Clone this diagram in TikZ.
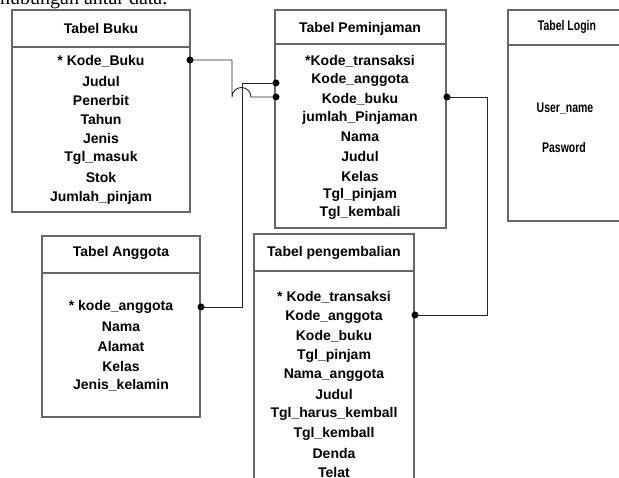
\documentclass[tikz,border=0pt]{standalone}
\usepackage{fontspec}
\setmainfont{Liberation Sans}
\newfontfamily\serifhead{Liberation Serif}
\newfontfamily\narrowfont[FakeStretch=0.75]{Liberation Sans}
\begin{document}
\begin{tikzpicture}[x=1pt,y=-1pt,
  box/.style={draw=black!60,line width=1.1pt},
  fld/.style={font=\fontsize{14}{14}\selectfont\bfseries,inner sep=0pt,anchor=center},
  nfld/.style={font=\narrowfont\fontsize{14}{14}\selectfont\bfseries,inner sep=0pt,anchor=center},
  dot/.style={circle,fill=black,inner sep=0pt,minimum size=7pt},
  con/.style={draw=black!85,line width=0.9pt}]
\useasboundingbox (0,0) rectangle (619,478);
\clip (0,0) rectangle (619,478);
% top caption (cut off)
\node[font=\serifhead\fontsize{20}{20}\selectfont,anchor=base west,inner sep=0pt] (cap) at (0,5) {hubungan antar data.};
% Tabel Buku
\draw[box] (12,10) rectangle (190,212);
\draw[box] (12,47) -- (190,47);
\node[fld] (tbuku) at (101,29) {Tabel Buku};
\node[fld] (b1) at (101,61) {* Kode\_Buku};
\node[fld] (b2) at (101,81) {Judul};
\node[fld] (b3) at (101,100) {Penerbit};
\node[fld] (b4) at (101,119) {Tahun};
\node[fld] (b5) at (101,138) {Jenis};
\node[fld] (b6) at (101,158) {Tgl\_masuk};
\node[fld] (b7) at (101,177) {Stok};
\node[fld] (b8) at (101,198) {Jumlah\_pinjam};
% Tabel Peminjaman
\draw[box] (275,10) rectangle (446,228);
\draw[box] (275,44) -- (446,44);
\node[fld] (tpem) at (360,29) {Tabel Peminjaman};
\node[fld] (p1) at (360,61) {*Kode\_transaksi};
\node[fld] (p2) at (360,80) {Kode\_anggota};
\node[fld] (p3) at (360,99) {Kode\_buku};
\node[fld] (p4) at (360,118) {jumlah\_Pinjaman};
\node[fld] (p5) at (360,137) {Nama};
\node[fld] (p6) at (360,156) {Judul};
\node[fld] (p7) at (360,176) {Kelas};
\node[fld] (p8) at (360,195) {Tgl\_pinjam};
\node[fld] (p9) at (360,213) {Tgl\_kembali};
% Tabel Login
\draw[box] (640,10) -- (508,10) -- (508,221) -- (640,221);
\draw[box] (508,45) -- (640,45);
\node[nfld] (tlog) at (567,27) {Tabel Login};
\node[nfld] (l1) at (565,109) {User\_name};
\node[nfld] (l2) at (564,147) {Pasword};
% Tabel Anggota
\draw[box] (42,236) rectangle (200,417);
\draw[box] (42,273) -- (200,273);
\node[fld] (tang) at (121,253) {Tabel Anggota};
\node[fld] (a1) at (121,307) {* kode\_anggota};
\node[fld] (a2) at (121,327) {Nama};
\node[fld] (a3) at (121,346) {Alamat};
\node[fld] (a4) at (121,366) {Kelas};
\node[fld] (a5) at (121,385) {Jenis\_kelamin};
% Tabel pengembalian
\draw[box] (254,500) -- (254,234) -- (414,234) -- (414,500);
\draw[box] (254,271) -- (414,271);
\node[fld] (tpeng) at (334,253) {Tabel pengembalian};
\node[fld] (g1) at (334,297) {* Kode\_transaksi};
\node[fld] (g2) at (334,316.5) {Kode\_anggota};
\node[fld] (g3) at (334,336) {Kode\_buku};
\node[fld] (g4) at (334,355.5) {Tgl\_pinjam};
\node[fld] (g5) at (334,375) {Nama\_anggota};
\node[fld] (g6) at (334,394.5) {Judul};
\node[fld] (g7) at (334,414) {Tgl\_harus\_kemball};
\node[fld] (g8) at (334,433.5) {Tgl\_kemball};
\node[fld] (g9) at (334,453) {Denda};
\node[fld] (g10) at (334,472.5) {Telat};
% dots
\node[dot] (dbuku) at (190,60) {};
\node[dot] (dpa) at (276,83) {};
\node[dot] (dpb) at (276,97) {};
\node[dot] (dpr) at (447,97) {};
\node[dot] (dang) at (201,307) {};
\node[dot] (dgeng) at (415,315) {};
\coordinate (jmp) at (232,97);
\coordinate (turn) at (487,315);
% connectors
\draw[con] (dbuku.center) -| (jmp) arc[start angle=180,end angle=360,radius=9.5] -- (dpb.center);
\draw[con] (dang.center) -| (242,83) -- (dpa.center);
\draw[con] (dpr.center) -| (turn) -- (dgeng.center);
\end{tikzpicture}
\end{document}
